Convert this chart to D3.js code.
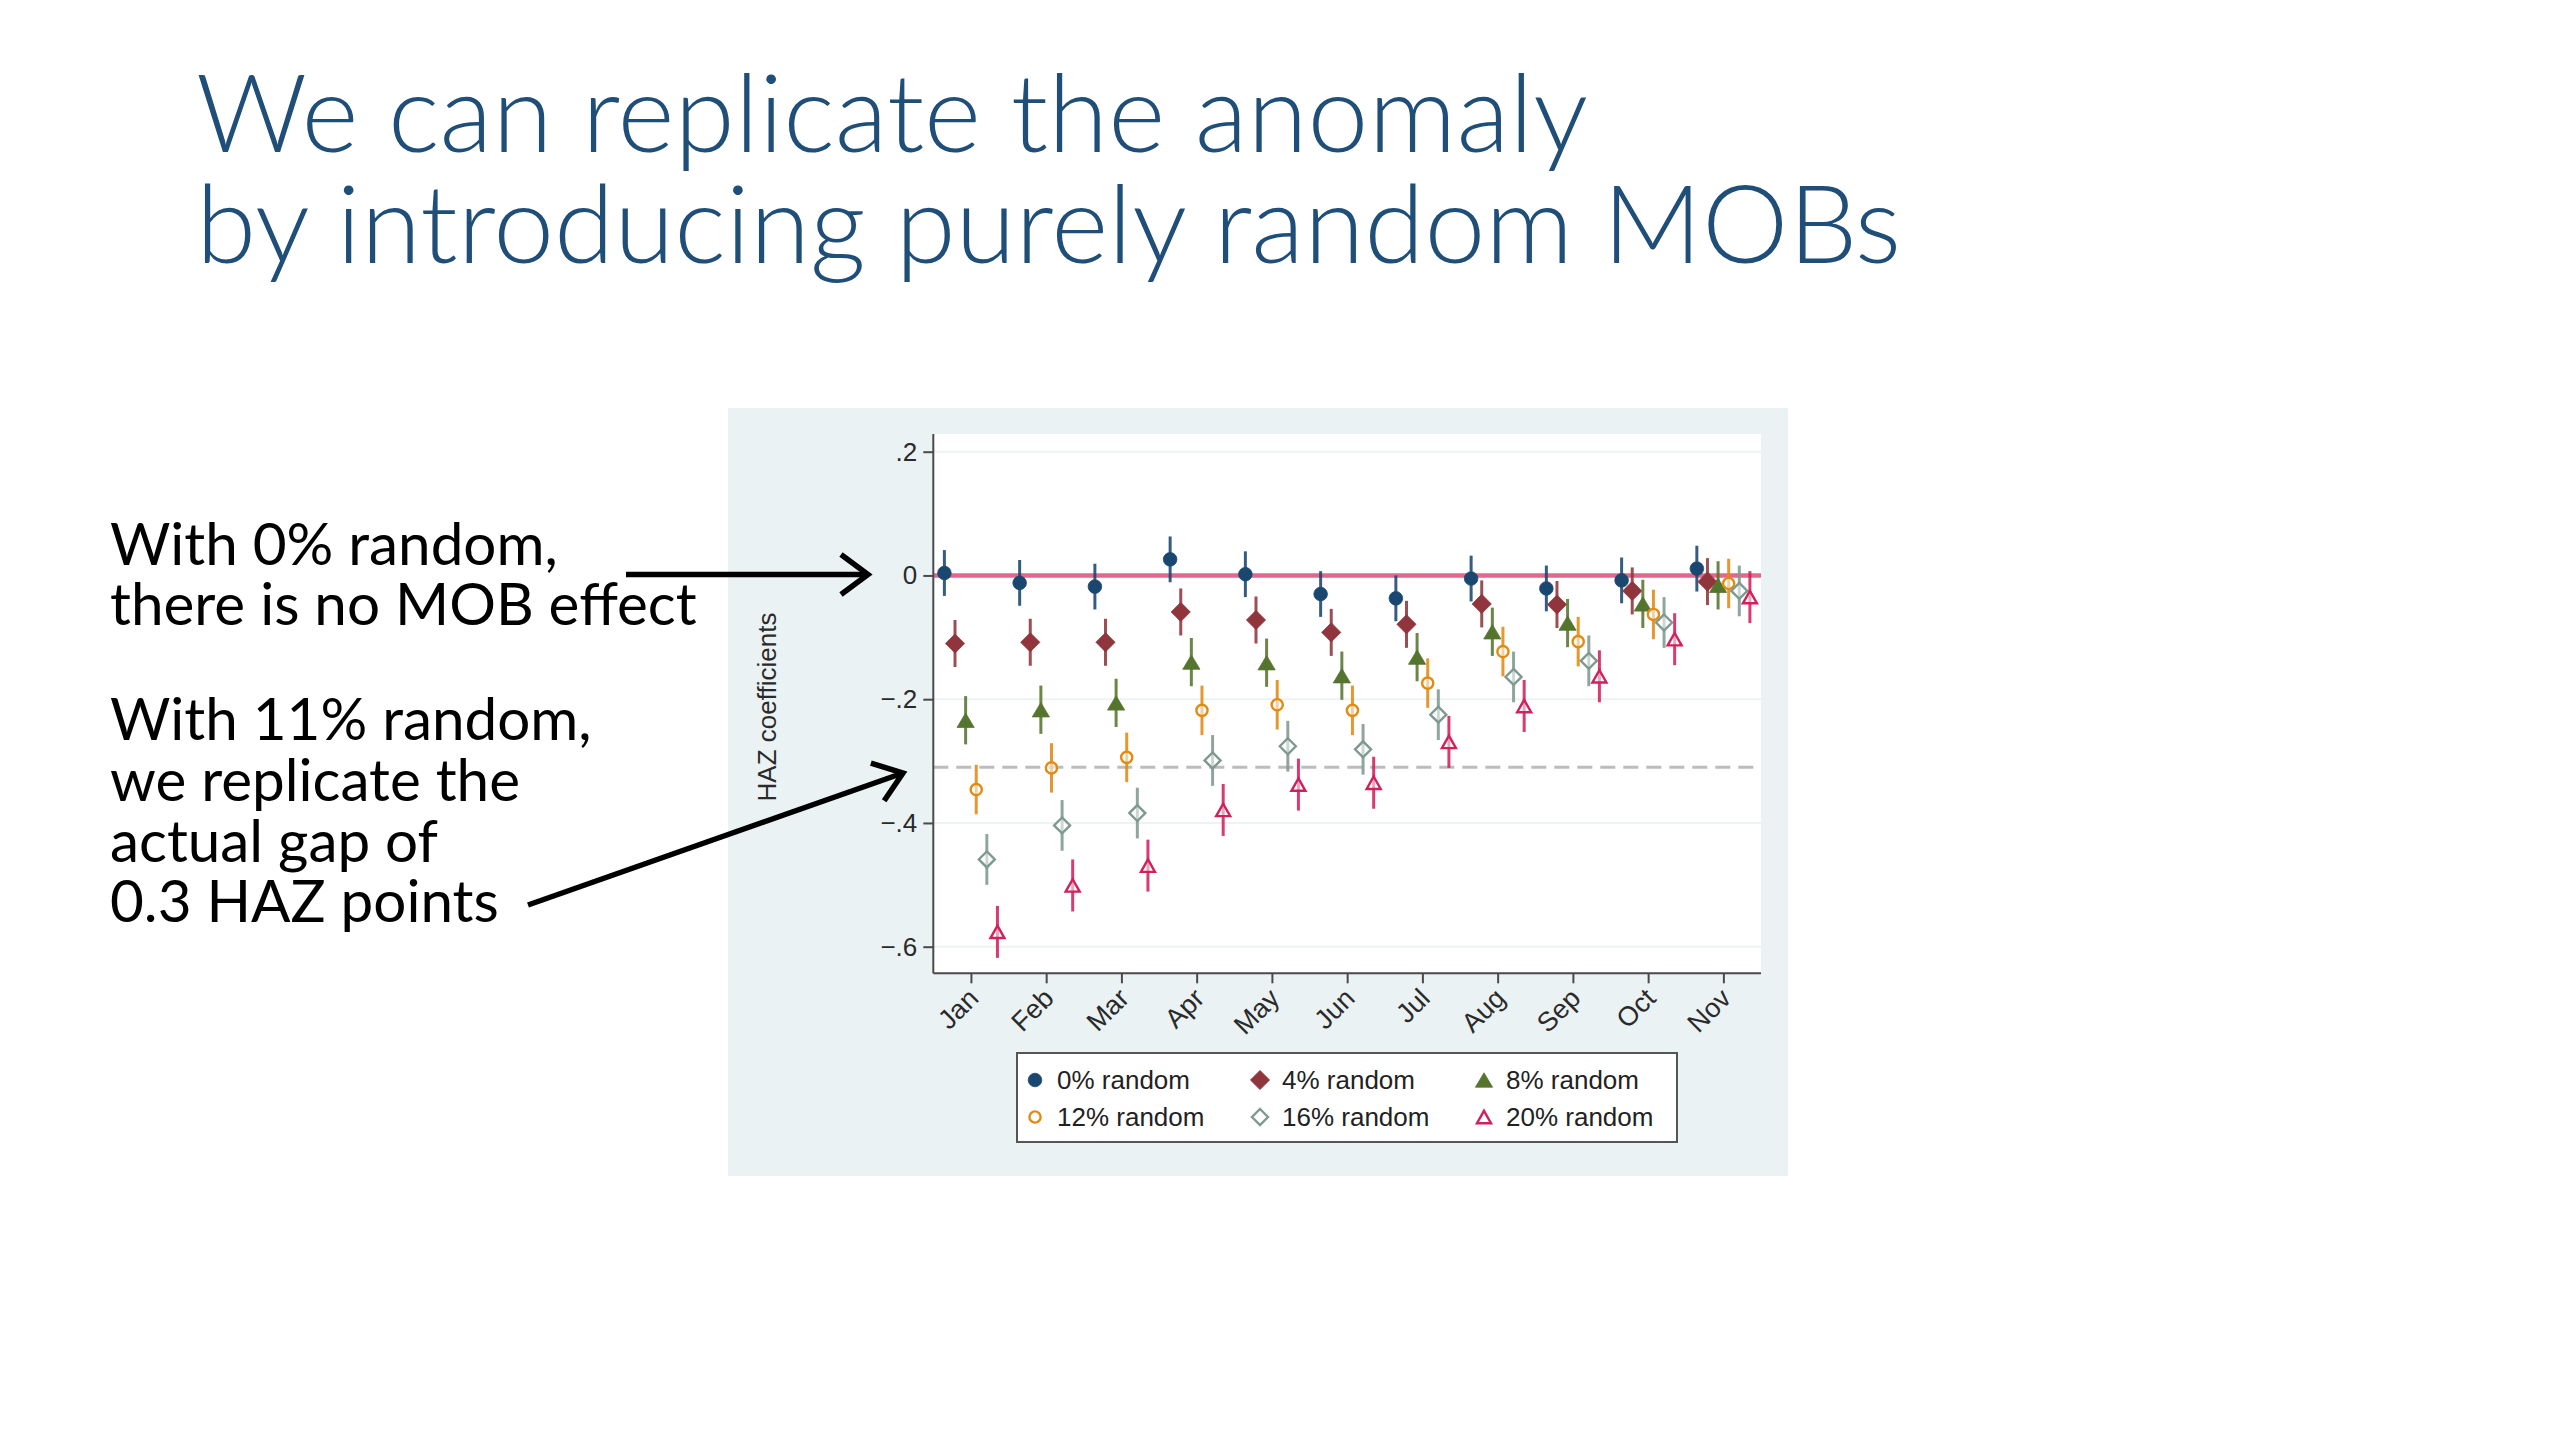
<!DOCTYPE html>
<html><head><meta charset="utf-8">
<script src="https://cdn.jsdelivr.net/npm/d3@7"></script>
<style>
html,body{margin:0;padding:0;background:#ffffff;}
svg{display:block;}
</style></head>
<body>
<svg id="chart" width="2560" height="1440"></svg>
<script>
// ---------------- DATA ----------------
const months = ["Jan","Feb","Mar","Apr","May","Jun","Jul","Aug","Sep","Oct","Nov"];
const seriesLabels = ["0% random","4% random","8% random","12% random","16% random","20% random"];
const random0  = [0.004, -0.012, -0.018, 0.026, 0.002, -0.030, -0.037, -0.005, -0.021, -0.008, 0.011];
const random4  = [-0.110, -0.108, -0.108, -0.059, -0.072, -0.092, -0.079, -0.046, -0.047, -0.025, -0.010];
const random8  = [-0.234, -0.217, -0.206, -0.140, -0.141, -0.162, -0.132, -0.091, -0.077, -0.046, -0.016];
const random12 = [-0.346, -0.311, -0.294, -0.218, -0.209, -0.218, -0.174, -0.123, -0.107, -0.063, -0.013];
const random16 = [-0.459, -0.404, -0.384, -0.299, -0.276, -0.281, -0.225, -0.164, -0.138, -0.076, -0.025];
const random20 = [-0.576, -0.501, -0.469, -0.379, -0.338, -0.335, -0.269, -0.211, -0.163, -0.103, -0.035];
const ciHalfWidth = [0.037, 0.038, 0.039, 0.040, 0.041, 0.042];
const yTicks = [0.2, 0, -0.2, -0.4, -0.6];
const zeroValue = 0;
const gapValue = -0.31;
const yTitle = "HAZ coefficients";
const titleLines = ["We can replicate the anomaly", "by introducing purely random MOBs"];
const noteTop = ["With 0% random,", "there is no MOB effect"];
const noteBottom = ["With 11% random,", "we replicate the", "actual gap of", "0.3 HAZ points"];

// ---------------- SETUP ----------------
const seriesValues = [random0, random4, random8, random12, random16, random20];
const colors = ["#1a476f", "#90353b", "#55752f", "#e38a12", "#7e9a90", "#d0215a"];
const shapes = ["circle", "diamond", "triangle", "circle", "diamond", "triangle"];
const hollow = [false, false, false, true, true, true];
const groupStep = 0.141; // offset between series within a month (x units)

const svg = d3.select("#chart");
const chartFont = "'Liberation Sans', Arial, sans-serif";
const slideFont = "Lato, 'Open Sans', sans-serif";

// slide title
const title = svg.append("g").attr("fill", "#1f4e79").attr("font-family", slideFont).attr("font-weight", 300);
const t1 = title.append("text").attr("x", 196).attr("y", 152).attr("font-size", 100).text(titleLines[0]);
const t2 = title.append("text").attr("x", 196).attr("y", 263).attr("font-size", 100).text(titleLines[1]);
{
  const r1 = 1395 / t1.node().getComputedTextLength();
  const r2 = 1702 / t2.node().getComputedTextLength();
  const fs = 100 * (r1 + r2) / 2;
  t1.attr("font-size", fs); t2.attr("font-size", fs);
}

// chart panel (graph region)
svg.append("rect").attr("x", 728).attr("y", 408).attr("width", 1060).attr("height", 768).attr("fill", "#eaf2f3");

const plot = {left: 933.3, right: 1761, top: 434, bottom: 973.3};
svg.append("rect").attr("x", plot.left).attr("y", plot.top)
  .attr("width", plot.right - plot.left).attr("height", plot.bottom - plot.top).attr("fill", "#ffffff");

const x = d3.scaleLinear().domain([0.5, 11.5]).range([plot.left, plot.right]);
const y = d3.scaleLinear().domain([-0.6, 0.2]).range([946.7, 451.7]);

// gridlines
svg.append("g").selectAll("line").data(yTicks).join("line")
  .attr("x1", plot.left).attr("x2", plot.right)
  .attr("y1", d => y(d)).attr("y2", d => y(d))
  .attr("stroke", "#eef2f2").attr("stroke-width", 2);

// reference lines
svg.append("line").attr("x1", plot.left).attr("x2", plot.right)
  .attr("y1", y(gapValue)).attr("y2", y(gapValue))
  .attr("stroke", "#bcbcbc").attr("stroke-width", 3).attr("stroke-dasharray", "15,8");
svg.append("line").attr("x1", plot.left).attr("x2", plot.right)
  .attr("y1", y(zeroValue)).attr("y2", y(zeroValue))
  .attr("stroke", "#e2678c").attr("stroke-width", 4.5);

// axes
const fmtY = v => v === 0 ? "0" : (v < 0 ? "\u2212" : "") + String(Math.abs(+v.toFixed(2))).replace(/^0/, "");
const yAxis = svg.append("g").attr("transform", `translate(${plot.left},0)`)
  .call(d3.axisLeft(y).tickValues(yTicks).tickFormat(fmtY).tickSize(10).tickPadding(6));
yAxis.select(".domain").attr("d", `M0,${plot.top}V${plot.bottom}`);
const xAxis = svg.append("g").attr("transform", `translate(0,${plot.bottom})`)
  .call(d3.axisBottom(x).tickValues(d3.range(1, 12)).tickFormat(i => months[i - 1]).tickSize(10));
xAxis.select(".domain").attr("d", `M${plot.left},0H${plot.right}`);
[yAxis, xAxis].forEach(a => {
  a.select(".domain").attr("stroke", "#4a4a4a").attr("stroke-width", 2);
  a.selectAll(".tick line").attr("stroke", "#4a4a4a").attr("stroke-width", 2);
  a.selectAll(".tick text").attr("fill", "#2a2a2a").attr("font-family", chartFont);
});
yAxis.selectAll(".tick text").attr("font-size", 26);
xAxis.selectAll(".tick text").attr("font-size", 27).attr("x", 0).attr("y", 0).attr("dy", "0.35em")
  .style("text-anchor", "end").attr("transform", "translate(2,20) rotate(-45)");

// y title
svg.append("text").attr("transform", "translate(776,707) rotate(-90)")
  .attr("text-anchor", "middle").attr("font-family", chartFont).attr("font-size", 26)
  .attr("fill", "#2a2a2a").text(yTitle);

// marker shapes
function symbolPath(shape, isHollow) {
  if (shape === "circle") {
    const r = isHollow ? 5.6 : 6.8;
    return `M${-r},0A${r},${r} 0 1,0 ${r},0A${r},${r} 0 1,0 ${-r},0Z`;
  }
  if (shape === "diamond") {
    const s = isHollow ? 8 : 9.6;
    return `M0,${-s}L${s},0L0,${s}L${-s},0Z`;
  }
  const w = isHollow ? 7 : 8.6, h = isHollow ? 6.2 : 7.2;
  return `M0,${-h}L${w},${h}L${-w},${h}Z`;
}
function styleMarker(sel, i) {
  sel.attr("d", symbolPath(shapes[i], hollow[i]))
    .attr("fill", hollow[i] ? "#ffffff" : colors[i])
    .attr("fill-opacity", hollow[i] ? 0.55 : 1)
    .attr("stroke", colors[i]).attr("stroke-width", hollow[i] ? 2.4 : 0.8);
}

// series
seriesValues.forEach((vals, i) => {
  const g = svg.append("g");
  const pts = vals.map((v, m) => ({xv: m + 1 + (i - 2.5) * groupStep, v}));
  g.selectAll("line").data(pts).join("line")
    .attr("x1", d => x(d.xv)).attr("x2", d => x(d.xv))
    .attr("y1", d => y(d.v - ciHalfWidth[i])).attr("y2", d => y(d.v + ciHalfWidth[i]))
    .attr("stroke", colors[i]).attr("stroke-width", 3).attr("stroke-opacity", 0.88);
  g.selectAll("path").data(pts).join("path")
    .attr("transform", d => `translate(${x(d.xv)},${y(d.v)})`)
    .call(sel => styleMarker(sel, i));
});

// legend
const leg = svg.append("g");
leg.append("rect").attr("x", 1017).attr("y", 1053).attr("width", 660).attr("height", 89)
  .attr("fill", "#ffffff").attr("stroke", "#555555").attr("stroke-width", 2);
const legCols = [1035, 1260, 1484], legRows = [1080, 1117];
seriesLabels.forEach((lab, i) => {
  const cx = legCols[i % 3], cy = legRows[Math.floor(i / 3)];
  leg.append("path").attr("transform", `translate(${cx},${cy})`).call(sel => styleMarker(sel, i));
  leg.append("text").attr("x", cx + 22).attr("y", cy).attr("dy", "0.36em")
    .attr("font-family", chartFont).attr("font-size", 26).attr("fill", "#222").text(lab);
});

// annotations
const notes = svg.append("g").attr("font-family", slideFont).attr("fill", "#000");
const allNotes = [...noteTop, ...noteBottom];
const baselines = [565, 625, 740, 801, 862, 922];
const noteEls = allNotes.map((s, k) => notes.append("text").attr("x", 110).attr("y", baselines[k]).attr("font-size", 50).text(s));
{
  const r1 = 584 / noteEls[1].node().getComputedTextLength();
  const r2 = 484 / noteEls[2].node().getComputedTextLength();
  const fs = 50 * (r1 + r2) / 2;
  noteEls.forEach(e => e.attr("font-size", fs));
}

// arrows
function arrow(x1, y1, x2, y2) {
  const len = Math.hypot(x2 - x1, y2 - y1), ux = (x2 - x1) / len, uy = (y2 - y1) / len;
  const nx = -uy, ny = ux, back = 27, half = 20;
  const g = svg.append("g").attr("fill", "none").attr("stroke", "#000").attr("stroke-width", 5.5);
  g.append("line").attr("x1", x1).attr("y1", y1).attr("x2", x2 - ux * 3).attr("y2", y2 - uy * 3);
  g.append("path").attr("stroke-linejoin", "miter")
    .attr("d", `M${x2 - ux * back + nx * half},${y2 - uy * back + ny * half}L${x2},${y2}L${x2 - ux * back - nx * half},${y2 - uy * back - ny * half}`);
}
arrow(626, 574.5, 868, 574.5);
arrow(528, 905, 903, 773);
</script>
</body></html>
